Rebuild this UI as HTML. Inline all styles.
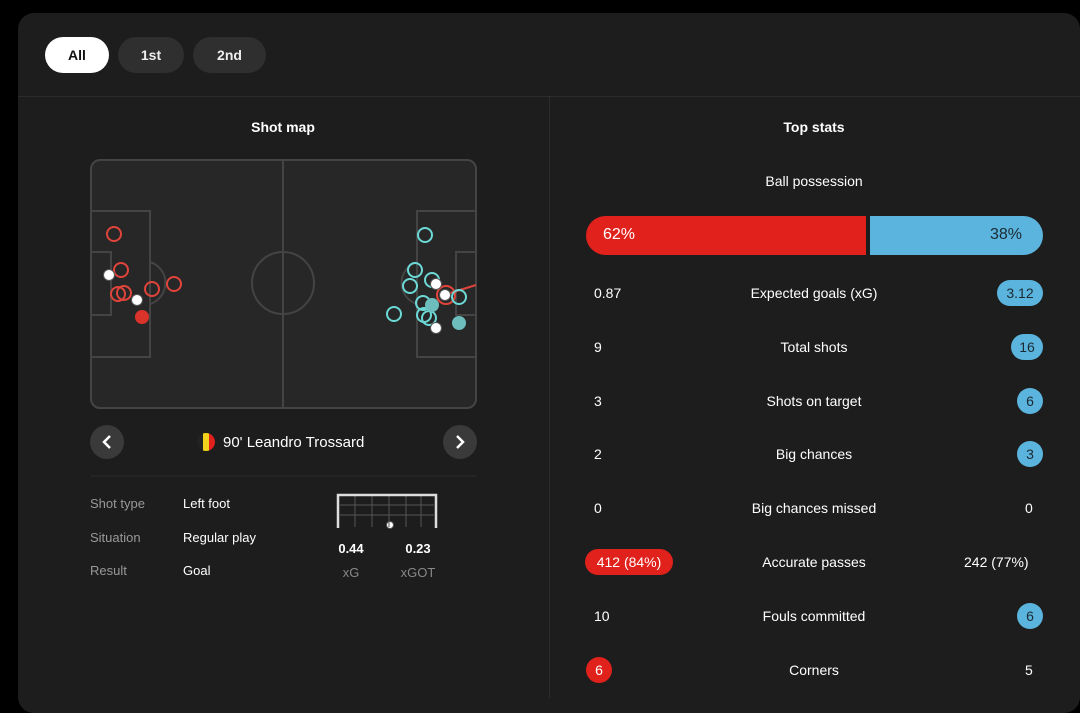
<!DOCTYPE html>
<html><head><meta charset="utf-8"><style>
body{margin:0;width:1080px;height:698px;background:#000;overflow:hidden;font-family:"Liberation Sans","DejaVu Sans",sans-serif;color:#fff}
.card{position:absolute;left:18px;top:13px;width:1062px;height:700px;background:#1d1d1d;border-radius:16px}
.tab{position:absolute;top:37px;height:36px;border-radius:18px;background:#2f2f2f;font-size:14px;font-weight:bold;line-height:36px;text-align:center;color:#eee}
.t{position:absolute;font-size:14px;white-space:nowrap}
.c{transform:translateX(-50%)}
.pill{position:absolute;height:26px;border-radius:13px;background:#5bb4dd;color:#1b2a33;font-size:14px;line-height:26px;text-align:center}
.rp{background:#e0211c;color:#fff}
</style></head><body>
<div class="card"></div>
<div class="tab" style="left:45px;width:64px;background:#fff;color:#111">All</div>
<div class="tab" style="left:118px;width:66px">1st</div>
<div class="tab" style="left:193px;width:73px">2nd</div>
<div style="position:absolute;left:18px;top:96px;width:1062px;height:1px;background:#2c2c2c"></div>
<div style="position:absolute;left:549px;top:96px;width:1px;height:602px;background:#2c2c2c"></div>
<div class="t c" style="left:283px;top:119px;font-weight:bold">Shot map</div>
<div class="t c" style="left:814px;top:119px;font-weight:bold">Top stats</div>
<svg style="position:absolute;left:0;top:0" width="1080" height="698">
<defs><clipPath id="fl"><circle cx="206" cy="442" r="9"/></clipPath></defs>
<g fill="#272727" stroke="#444" stroke-width="2">
<rect x="91" y="160" width="385" height="248" rx="9"/>
</g>
<g fill="none" stroke="#444" stroke-width="2">
<line x1="283" y1="160" x2="283" y2="408"/>
<circle cx="283" cy="283" r="31"/>
<rect x="91" y="211" width="59" height="146"/><rect x="91" y="252" width="20" height="63"/>
<path d="M150 262 A22 22 0 0 1 150 304"/>
<rect x="417" y="211" width="59" height="146"/><rect x="456" y="252" width="20" height="63"/>
<path d="M417 262 A22 22 0 0 0 417 304"/>
</g>
<g fill="none" stroke="#e0443a" stroke-width="2">
<circle cx="114" cy="234" r="7"/><circle cx="121" cy="270" r="7"/><circle cx="118" cy="294" r="7"/><circle cx="124" cy="293" r="7"/><circle cx="152" cy="289" r="7"/><circle cx="174" cy="284" r="7"/>
<line x1="447" y1="294" x2="476" y2="285"/><circle cx="446" cy="295" r="9"/>
</g>
<circle cx="142" cy="317" r="7" fill="#d9332a"/>
<g fill="none" stroke="#6cd9d6" stroke-width="2">
<circle cx="425" cy="235" r="7"/><circle cx="415" cy="270" r="7"/><circle cx="410" cy="286" r="7"/><circle cx="432" cy="280" r="7"/><circle cx="423" cy="303" r="7"/><circle cx="394" cy="314" r="7"/><circle cx="424" cy="315" r="7"/><circle cx="429" cy="318" r="7"/><circle cx="459" cy="297" r="7"/>
</g>
<circle cx="432" cy="305" r="7" fill="#6cbdbb"/><circle cx="459" cy="323" r="7" fill="#6cbdbb"/>
<g fill="#fff" stroke="#555" stroke-width="1">
<circle cx="109" cy="275" r="5.5"/><circle cx="137" cy="300" r="5.5"/><circle cx="436" cy="284" r="5.5"/><circle cx="445" cy="295" r="5.5"/><circle cx="436" cy="328" r="5.5"/><circle cx="390" cy="525" r="3.5"/>
</g>
<circle cx="107" cy="442" r="17" fill="#3a3a3a"/><circle cx="460" cy="442" r="17" fill="#3a3a3a"/>
<path d="M110 436 L104 442 L110 448" stroke="#fff" stroke-width="2.5" fill="none"/>
<path d="M457 436 L463 442 L457 448" stroke="#fff" stroke-width="2.5" fill="none"/>
<g clip-path="url(#fl)"><rect x="197" y="433" width="6" height="18" fill="#222"/><rect x="203" y="433" width="6" height="18" fill="#f2d21b"/><rect x="209" y="433" width="6" height="18" fill="#e0211c"/></g>
<line x1="91" y1="476" x2="476" y2="476" stroke="#2c2c2c"/>
<g stroke="#555" stroke-width="1" fill="none">
<line x1="340" y1="505" x2="434" y2="505"/><line x1="340" y1="515" x2="434" y2="515"/>
<line x1="355" y1="495" x2="355" y2="527"/><line x1="372" y1="495" x2="372" y2="527"/><line x1="389" y1="495" x2="389" y2="527"/><line x1="406" y1="495" x2="406" y2="527"/><line x1="421" y1="495" x2="421" y2="527"/>
</g>
<path d="M338 528 V495 H436 V528" stroke="#ddd" stroke-width="2.5" fill="none"/>
<rect x="586" y="216" width="280" height="39" rx="19.5" fill="#e0211c"/><rect x="846" y="216" width="20" height="39" fill="#e0211c"/>
<rect x="870" y="216" width="173" height="39" rx="19.5" fill="#5bb4dd"/><rect x="870" y="216" width="20" height="39" fill="#5bb4dd"/>
</svg>
<div class="t" style="left:223px;top:434px;font-size:15px">90' Leandro Trossard</div>
<div class="t" style="left:90px;top:496px;color:#999;font-size:13px">Shot type</div>
<div class="t" style="left:90px;top:530px;color:#999;font-size:13px">Situation</div>
<div class="t" style="left:90px;top:563px;color:#999;font-size:13px">Result</div>
<div class="t" style="left:183px;top:496px;font-size:13px">Left foot</div>
<div class="t" style="left:183px;top:530px;font-size:13px">Regular play</div>
<div class="t" style="left:183px;top:563px;font-size:13px">Goal</div>
<div class="t c" style="left:351px;top:541px;font-size:13px;font-weight:bold">0.44</div>
<div class="t c" style="left:418px;top:541px;font-size:13px;font-weight:bold">0.23</div>
<div class="t c" style="left:351px;top:565px;font-size:13px;color:#888">xG</div>
<div class="t c" style="left:418px;top:565px;font-size:13px;color:#888">xGOT</div>
<div class="t c" style="left:814px;top:173px">Ball possession</div>
<div class="t" style="left:603px;top:226px;font-size:16px">62%</div>
<div class="t" style="left:990px;top:226px;font-size:16px;color:#1b2a33">38%</div>
<div class="t" style="left:594px;top:285px">0.87</div><div class="t c" style="left:814px;top:285px">Expected goals (xG)</div><div class="pill" style="left:997px;top:280px;width:46px">3.12</div>
<div class="t" style="left:594px;top:339px">9</div><div class="t c" style="left:814px;top:339px">Total shots</div><div class="pill" style="left:1011px;top:334px;width:32px">16</div>
<div class="t" style="left:594px;top:393px">3</div><div class="t c" style="left:814px;top:393px">Shots on target</div><div class="pill" style="left:1017px;top:388px;width:26px">6</div>
<div class="t" style="left:594px;top:446px">2</div><div class="t c" style="left:814px;top:446px">Big chances</div><div class="pill" style="left:1017px;top:441px;width:26px">3</div>
<div class="t" style="left:594px;top:500px">0</div><div class="t c" style="left:814px;top:500px">Big chances missed</div><div class="t" style="left:1025px;top:500px">0</div>
<div class="pill rp" style="left:585px;top:549px;width:88px">412 (84%)</div><div class="t c" style="left:814px;top:554px">Accurate passes</div><div class="t" style="left:964px;top:554px">242 (77%)</div>
<div class="t" style="left:594px;top:608px">10</div><div class="t c" style="left:814px;top:608px">Fouls committed</div><div class="pill" style="left:1017px;top:603px;width:26px">6</div>
<div class="pill rp" style="left:586px;top:657px;width:26px">6</div><div class="t c" style="left:814px;top:662px">Corners</div><div class="t" style="left:1025px;top:662px">5</div>
</body></html>
